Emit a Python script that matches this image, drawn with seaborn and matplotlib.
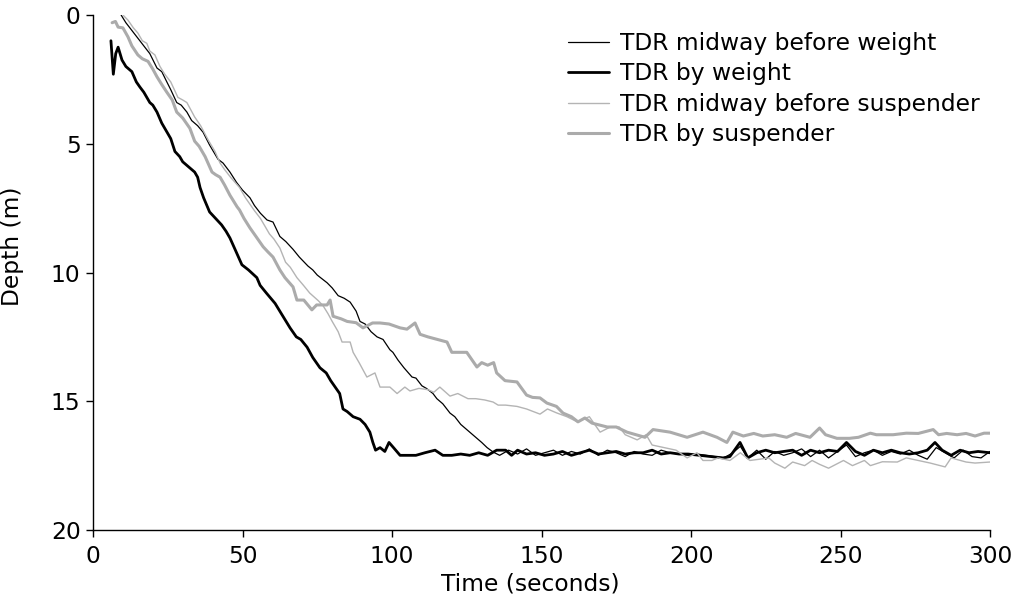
import matplotlib
matplotlib.use("Agg")
import matplotlib.pyplot as plt
import seaborn as sns
import pandas as pd

# ---- data ----
series_names = ["TDR midway before weight", "TDR by weight",
                "TDR midway before suspender", "TDR by suspender"]

t_mid_weight = [9.4, 11, 13, 15, 17, 19, 21.4, 23, 24.7, 26, 28, 29.5, 31.4, 33, 35, 36.8, 39, 41.8, 43.5, 45.8,
                48, 50, 52.5, 54, 56, 58.2, 60.2, 62.5, 64.5, 66.9, 69, 71.9, 73.5, 75, 78.3, 80, 82, 84, 86, 88,
                89.3, 91, 93, 95, 97, 99.3, 100.3, 102, 104, 106.7, 108, 110, 111.5, 113.7, 115, 117, 119.4, 121, 123, 126,
                128, 130, 131.8, 133.8,
                136, 139, 142, 145, 148, 151, 154, 157, 160, 163, 166, 169, 172, 175, 178, 181, 184, 187, 190, 193,
                196, 199, 202, 205, 208, 211, 214, 216.5, 219, 222, 225, 228, 231, 234, 237, 240, 243, 246, 249, 252,
                255, 258, 261, 264, 267, 270, 273, 276, 279, 282, 285, 288, 291, 294, 297, 300]
d_mid_weight = [0, 0.3, 0.6, 0.9, 1.2, 1.5, 2.06, 2.2, 2.6, 2.9, 3.4, 3.5, 3.77, 4.1, 4.3, 4.55, 5.05, 5.6, 5.75, 6.1,
                6.5, 6.8, 7.1, 7.4, 7.7, 7.96, 8.04, 8.6, 8.8, 9.1, 9.4, 9.75, 9.9, 10.1, 10.4, 10.6, 10.9, 11.0, 11.15, 11.5,
                11.9, 12.0, 12.3, 12.5, 12.6, 13.0, 13.1, 13.4, 13.7, 14.06, 14.1, 14.4, 14.5, 14.7, 14.9, 15.1, 15.46, 15.6, 15.9, 16.2,
                16.4, 16.6, 16.8, 16.97,
                17.1, 16.9, 17.05, 16.85, 17.1, 17.0, 16.9, 17.1, 16.95, 17.05, 16.85, 17.1, 16.9, 17.0, 17.15, 16.95, 17.05, 17.1, 16.9, 17.0,
                17.05, 17.1, 17.05, 17.1, 17.15, 17.2, 17.0, 16.75, 17.2, 16.9, 17.25, 16.95, 17.1, 17.0, 16.85, 17.15, 16.9, 17.2, 16.95, 16.7,
                17.15, 17.0, 16.9, 17.1, 16.95, 17.05, 16.9, 17.1, 17.25, 16.8, 17.0, 17.2, 16.9, 17.15, 17.2, 16.95]

t_by_weight = [6, 6.8, 7.6, 8.4, 9.7, 11, 13, 14.5, 15.7, 17, 19, 20, 21.4, 23, 25, 26, 27.4, 29, 30, 32,
               34, 35, 35.8, 37, 39, 41, 43, 44.5, 45.8, 47.5, 49.8, 52, 54.8, 55.9, 58, 60.9, 63, 65.9, 68, 69.5,
               71.6, 73.5, 75.9, 78, 79.5, 81, 82.5, 83.6, 85, 87, 89.3, 91, 92.6, 93.6, 94.5, 96, 97.6, 99, 100.5, 102.7,
               105, 108, 111, 114.4, 117, 120, 123, 126, 129, 132, 135, 138, 140, 142, 145, 148, 151, 154, 157, 160,
               163, 166, 169, 172, 175, 178, 181, 184, 187, 190, 193, 196, 199, 210.7, 213, 216.4, 219, 222, 225, 228,
               231, 234, 237, 240, 243, 246, 249, 252, 255, 258, 261, 264, 267, 270, 273, 276, 279, 281.6, 284, 287,
               290, 293, 296, 300]
d_by_weight = [1.0, 2.3, 1.5, 1.25, 1.75, 2.0, 2.2, 2.6, 2.8, 3.0, 3.4, 3.5, 3.77, 4.2, 4.6, 4.8, 5.3, 5.5, 5.7, 5.9,
               6.1, 6.3, 6.7, 7.1, 7.65, 7.9, 8.15, 8.4, 8.66, 9.1, 9.7, 9.9, 10.2, 10.5, 10.8, 11.2, 11.6, 12.15, 12.5, 12.6,
               12.9, 13.3, 13.7, 13.9, 14.2, 14.45, 14.7, 15.3, 15.4, 15.6, 15.7, 15.9, 16.2, 16.6, 16.9, 16.8, 16.95, 16.6, 16.8, 17.1,
               17.1, 17.1, 17.0, 16.9, 17.1, 17.1, 17.05, 17.1, 17.0, 17.1, 16.9, 16.9, 17.1, 16.9, 17.05, 17.0, 17.1, 17.05, 16.95, 17.1,
               17.0, 16.9, 17.05, 17.0, 16.95, 17.05, 17.0, 17.0, 16.9, 17.05, 17.0, 17.05, 17.05, 17.2, 17.15, 16.6, 17.2, 17.0, 16.9, 17.0,
               16.95, 16.9, 17.1, 16.9, 17.0, 16.9, 16.95, 16.6, 16.95, 17.1, 16.9, 17.0, 16.9, 17.0, 17.05, 17.0, 16.9, 16.6, 16.9, 17.1,
               16.9, 17.0, 16.95, 17.0]

t_mid_susp = [10, 11.7, 13.5, 15, 16.5, 18, 19, 20.7, 22.4, 24, 26, 28.4, 30, 31.4, 34, 36, 38.5, 40.8, 42.5, 44,
              46, 49, 51, 54, 56, 59, 60.5, 62.5, 64.4, 66, 68.2, 70.4, 72.5, 75.4, 77, 78.6, 80, 82, 83.3, 86,
              87, 89, 91.6, 94.3, 96, 99.3, 101.7, 104.3, 106, 109, 112, 114, 116, 119.4, 122, 125.4, 128, 131, 133.8, 135.5,
              138, 141.8, 145, 149.5, 152, 155, 158.5, 162, 166, 169.6, 173, 176, 178, 182, 185, 187, 191, 195, 198.7, 202,
              204, 207, 209, 213, 216.5, 219.7, 223, 226, 228, 231.4, 234, 238, 240.5, 243, 246, 251, 254, 258, 260, 264,
              269, 272, 276, 280, 285, 287, 292, 295, 300]
d_mid_susp = [0, 0.2, 0.5, 0.7, 1.0, 1.1, 1.4, 1.55, 2.0, 2.3, 2.6, 3.2, 3.3, 3.4, 3.96, 4.3, 4.85, 5.3, 5.75, 6.0,
              6.3, 6.7, 7.1, 7.6, 7.9, 8.5, 8.7, 9.05, 9.6, 9.8, 10.2, 10.5, 10.8, 11.1, 11.3, 11.6, 11.9, 12.3, 12.7, 12.7,
              13.1, 13.5, 14.06, 13.9, 14.45, 14.45, 14.7, 14.45, 14.6, 14.5, 14.55, 14.65, 14.45, 14.8, 14.7, 14.9, 14.9, 14.95, 15.03, 15.15,
              15.15, 15.2, 15.3, 15.5, 15.3, 15.45, 15.6, 15.8, 15.6, 16.2, 16.0, 16.0, 16.3, 16.5, 16.3, 16.7, 16.8, 16.9, 17.2, 17.0,
              17.3, 17.3, 17.2, 17.3, 17.0, 17.3, 17.25, 17.2, 17.4, 17.6, 17.36, 17.5, 17.3, 17.45, 17.6, 17.3, 17.5, 17.3, 17.5, 17.35,
              17.36, 17.2, 17.3, 17.4, 17.55, 17.2, 17.36, 17.4, 17.36]

t_by_susp = [6.4, 7.5, 8.4, 10, 11.7, 13, 15, 16.5, 18.4, 20, 21.4, 23, 24.7, 26.5, 28, 30, 32.4, 34, 35.5, 37.5,
             39.8, 41, 42.5, 44, 45.8, 48.2, 49, 50.5, 52.5, 54.5, 56.9, 58.5, 60.2, 62.5, 64.2, 66.9, 68.2, 70.5, 73.2, 74.8,
             78.3, 79.3, 80.3, 83, 85, 88, 90.3, 93.5, 96, 99, 102.7, 105, 107.7, 109.4, 112, 118.4, 120, 125, 128.4, 130,
             132, 134, 135, 137.8, 141.8, 145, 147, 149.5, 151.8, 155, 157.2, 160, 162.2, 164.5, 166.9, 172, 175, 178.6, 184.6, 187.3,
             193, 198.7, 204, 208.7, 212, 214, 217.5, 221, 224, 228, 232, 235, 239.8, 243, 245, 248.8, 253, 256, 260, 262,
             267.6, 272, 276, 281, 282.8, 285.5, 289, 292, 295, 298, 300]
d_by_susp = [0.3, 0.25, 0.47, 0.5, 0.85, 1.2, 1.55, 1.7, 1.8, 2.1, 2.4, 2.7, 3.0, 3.3, 3.77, 4.0, 4.4, 4.9, 5.1, 5.5,
             6.1, 6.2, 6.3, 6.6, 7.0, 7.45, 7.57, 7.9, 8.27, 8.6, 9.0, 9.2, 9.4, 9.9, 10.2, 10.56, 11.07, 11.07, 11.45, 11.26,
             11.26, 11.07, 11.7, 11.8, 11.9, 11.95, 12.15, 11.96, 11.96, 12.0, 12.15, 12.2, 11.96, 12.4, 12.5, 12.7, 13.1, 13.1, 13.67, 13.5,
             13.6, 13.5, 13.9, 14.2, 14.25, 14.76, 14.85, 14.87, 15.07, 15.2, 15.46, 15.6, 15.8, 15.65, 15.85, 16.0, 16.0, 16.2, 16.4, 16.1,
             16.2, 16.4, 16.2, 16.4, 16.6, 16.2, 16.35, 16.25, 16.35, 16.3, 16.4, 16.25, 16.4, 16.04, 16.3, 16.44, 16.44, 16.4, 16.24, 16.3,
             16.3, 16.24, 16.25, 16.1, 16.3, 16.25, 16.3, 16.25, 16.35, 16.24, 16.24]

x_ticks = [0, 50, 100, 150, 200, 250, 300]
y_ticks = [0, 5, 10, 15, 20]

# ---- build long table ----
frames = []
for name, t, d in zip(series_names,
                      [t_mid_weight, t_by_weight, t_mid_susp, t_by_susp],
                      [d_mid_weight, d_by_weight, d_mid_susp, d_by_susp]):
    frames.append(pd.DataFrame({"time": t, "depth": d, "series": name}))
df = pd.concat(frames, ignore_index=True)

styles = {
    "TDR midway before weight": dict(color="#000000", lw=0.9),
    "TDR by weight": dict(color="#000000", lw=2.0),
    "TDR midway before suspender": dict(color="#b4b4b4", lw=1.0),
    "TDR by suspender": dict(color="#ababab", lw=2.2),
}

sns.set_theme(style="ticks")
plt.rcParams["font.family"] = ["DejaVu Sans"]
plt.rcParams["text.color"] = "black"
plt.rcParams["axes.labelcolor"] = "black"
plt.rcParams["xtick.color"] = "black"
plt.rcParams["ytick.color"] = "black"

FS = 16.8

fig = plt.figure(figsize=(10.21, 6.05), dpi=100)
ax = fig.add_axes([93 / 1021, 1 - 530 / 605, 897 / 1021, 515 / 605])

for name in series_names:
    sub = df[df["series"] == name]
    sns.lineplot(data=sub, x="time", y="depth", ax=ax, sort=False, estimator=None,
                 color=styles[name]["color"], linewidth=styles[name]["lw"], label=name)

ax.set_xlim(0, 300)
ax.set_ylim(20, 0)
ax.set_xticks(x_ticks)
ax.set_yticks(y_ticks)
ax.tick_params(axis="both", direction="out", length=5, width=1, labelsize=FS,
               colors="black", labelcolor="black")
ax.tick_params(axis="x", pad=6)
ax.tick_params(axis="y", pad=4)
for s in ["top", "right"]:
    ax.spines[s].set_visible(False)
for s in ["left", "bottom"]:
    ax.spines[s].set_color("black")
    ax.spines[s].set_linewidth(1.0)

ax.set_xlabel("Time (seconds)", fontsize=FS, color="black")
ax.set_ylabel("Depth (m)", fontsize=FS, color="black")
ax.xaxis.set_label_coords(0.487, -0.083)
ax.yaxis.set_label_coords(-0.077, 0.55)

leg = ax.legend(loc="upper left", bbox_to_anchor=(568 / 1021, 1 - 32 / 605),
                bbox_transform=fig.transFigure, frameon=False, fontsize=FS,
                handlelength=1.75, handletextpad=0.5, labelspacing=0.32,
                borderpad=0, borderaxespad=0)
for txt in leg.get_texts():
    txt.set_color("black")

fig.savefig("out.png", dpi=100)
